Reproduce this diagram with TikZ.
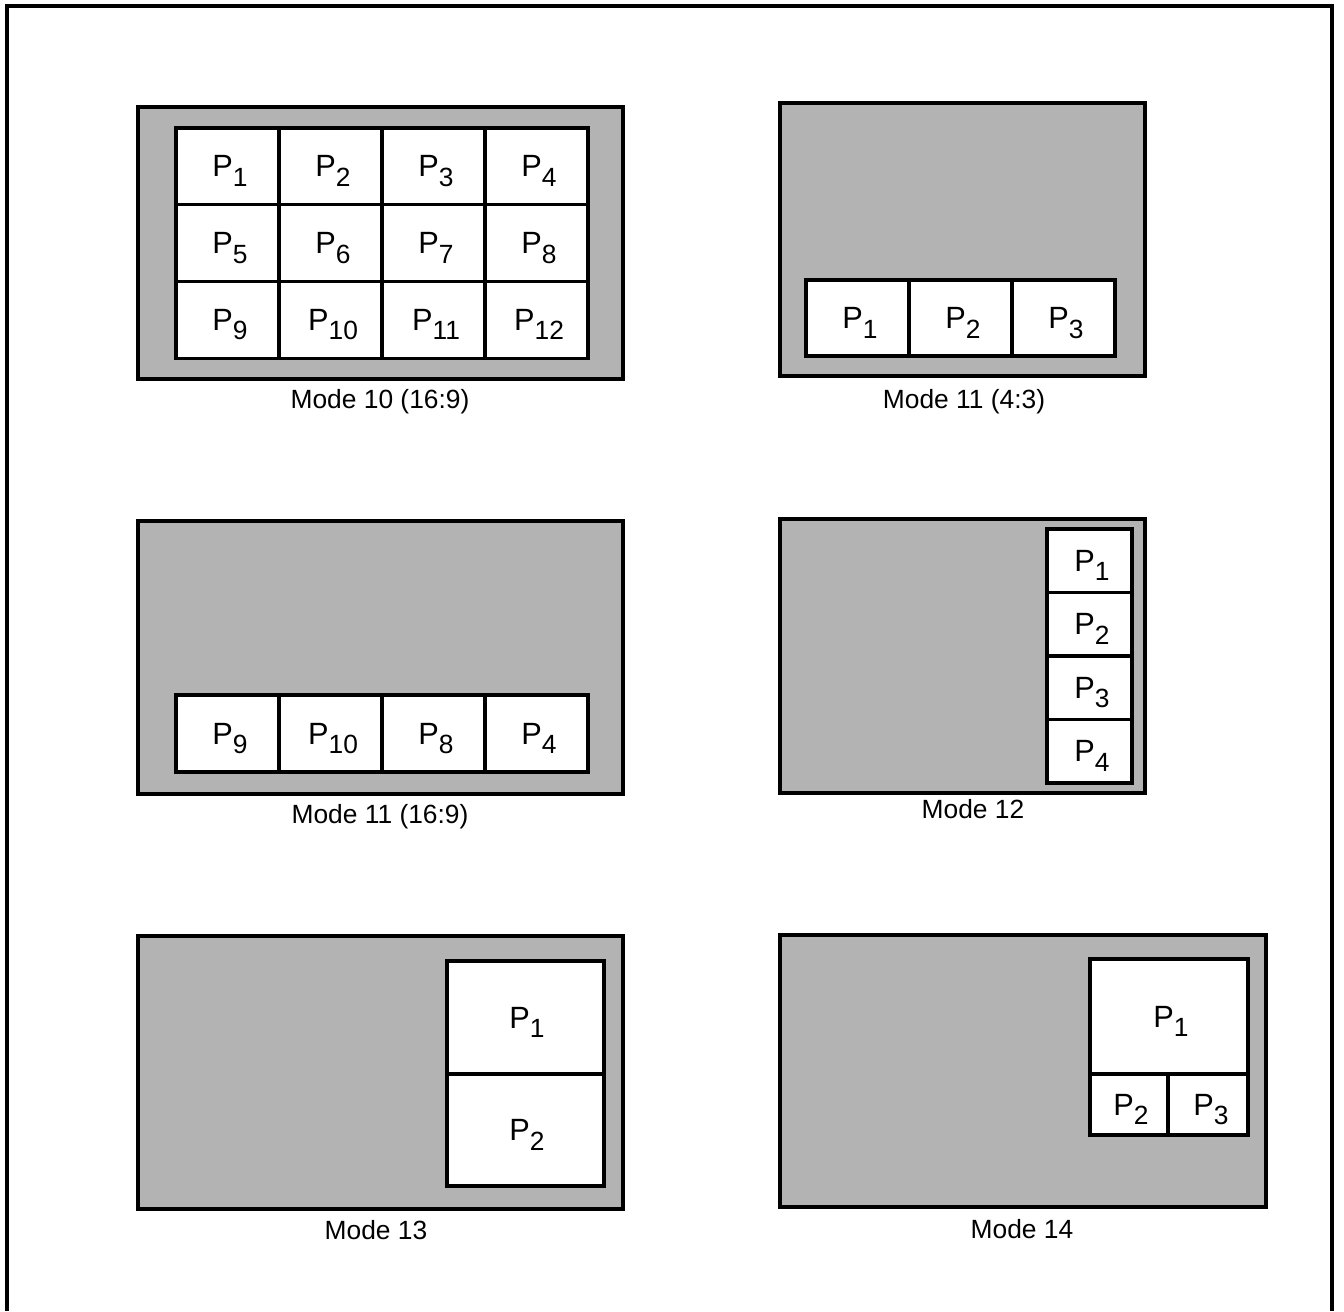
\documentclass[tikz,border=0pt]{standalone}
\usepackage{fontspec}
\setmainfont{Liberation Sans}
\definecolor{screengray}{RGB}{179, 179, 179}
\newcommand{\pane}[1]{P\raisebox{-5.5pt}{\fontsize{15}{16}\selectfont #1}}

\begin{document}
\begin{tikzpicture}[x=0.02cm, y=-0.02cm,
    screen/.style={draw, line width=2.1pt, fill=screengray},
    win/.style={draw, line width=1.8pt, fill=white},
    lbl/.style={font=\fontsize{17.5}{19}\selectfont, text depth=0pt, inner sep=0pt},
    modecap/.style={font=\fontsize{15}{17}\selectfont, anchor=base, inner sep=0pt}]
        \useasboundingbox (0,0) rectangle (1344,1311);
        \draw[line width=2pt] (7,1311) -- (7,6) -- (1332,6) -- (1332,1311);

        % Mode 10 (16:9)
        \draw[screen] (138,107) rectangle (623,379);
        \foreach \r in {0,1,2} {
          \foreach \c in {0,1,2,3} {
            \pgfmathtruncatemacro{\n}{4*\r+\c+1}
            \draw[win] ({176+103*\c},{128+76.7*\r}) rectangle ++(103,76.7);
            \node[lbl] (ma\n) at ({230+103*\c},{166.3+76.7*\r}) {\pane{\n}};
          }
        }
        \node[modecap] (capa) at (380,408) {Mode 10 (16:9)};

        % Mode 11 (4:3)
        \draw[screen] (780,103) rectangle (1145,376);
        \foreach \c in {1,2,3} {
          \draw[win] ({806+103*(\c-1)},280) rectangle ++(103,76);
          \node[lbl] (mb\c) at ({860+103*(\c-1)},318) {\pane{\c}};
        }
        \node[modecap] (capb) at (964,408) {Mode 11 (4:3)};

        % Mode 11 (16:9)
        \draw[screen] (138,521) rectangle (623,794);
        \foreach \p [count=\c from 0] in {9,10,8,4} {
          \draw[win] ({176+103*\c},695) rectangle ++(103,77);
          \node[lbl] (mc\p) at ({230+103*\c},733.5) {\pane{\p}};
        }
        \node[modecap] (capc) at (380,823) {Mode 11 (16:9)};

        % Mode 12
        \draw[screen] (780,519) rectangle (1145,793);
        \foreach \c in {1,2,3,4} {
          \draw[win] (1047,{529+63.5*(\c-1)}) rectangle ++(85,63.5);
          \node[lbl] (md\c) at (1092,{560.75+63.5*(\c-1)}) {\pane{\c}};
        }
        \node[modecap] (capd) at (973,818) {Mode 12};

        % Mode 13
        \draw[screen] (138,936) rectangle (623,1209);
        \draw[win] (447,961) rectangle (604,1074);
        \draw[win] (447,1074) rectangle (604,1186);
        \node[lbl] (me1) at (527,1017.5) {\pane{1}};
        \node[lbl] (me2) at (527,1130) {\pane{2}};
        \node[modecap] (cape) at (376,1239) {Mode 13};

        % Mode 14
        \draw[screen] (780,935) rectangle (1266,1207);
        \draw[win] (1090,959) rectangle (1248,1074);
        \draw[win] (1090,1074) rectangle (1168,1135);
        \draw[win] (1168,1074) rectangle (1248,1135);
        \node[lbl] (mf1) at (1171,1016.5) {\pane{1}};
        \node[lbl] (mf2) at (1131,1104.5) {\pane{2}};
        \node[lbl] (mf3) at (1211,1104.5) {\pane{3}};
        \node[modecap] (capf) at (1022,1238) {Mode 14};
      \end{tikzpicture}
\end{document}
